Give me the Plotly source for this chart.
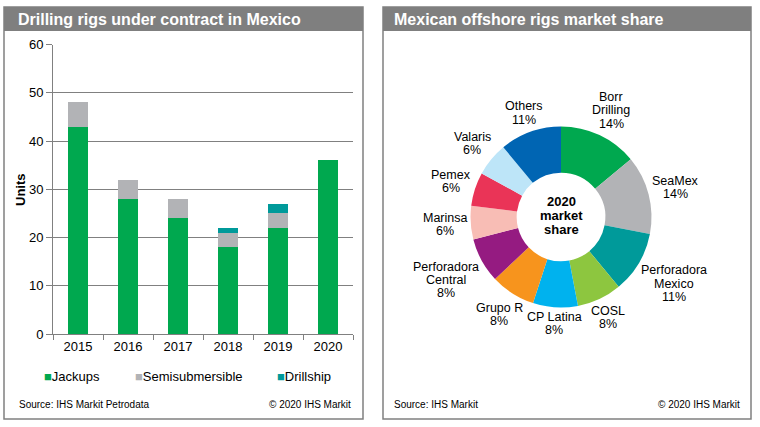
import math
import plotly.graph_objects as go

# ---------------- data ----------------
years = ["2015", "2016", "2017", "2018", "2019", "2020"]
jackups = [43, 28, 24, 18, 22, 36]
semisub = [5, 4, 4, 3, 3, 0]
drillship = [0, 0, 0, 1, 2, 0]
bar_series = ["Jackups", "Semisubmersible", "Drillship"]
bar_colors = ["#00A84F", "#B2B3B6", "#009A9A"]

companies = ["Borr Drilling", "SeaMex", "Perforadora Mexico", "COSL", "CP Latina",
             "Grupo R", "Perforadora Central", "Marinsa", "Pemex", "Valaris", "Others"]
company_lines = [["Borr", "Drilling"], ["SeaMex"], ["Perforadora", "Mexico"], ["COSL"], ["CP Latina"],
                 ["Grupo R"], ["Perforadora", "Central"], ["Marinsa"], ["Pemex"], ["Valaris"], ["Others"]]
shares = [14, 14, 11, 8, 8, 8, 8, 6, 6, 6, 11]
pie_colors = ["#00A84F", "#B2B3B6", "#009A9A", "#8DC63F", "#00B2EE", "#F7941D",
              "#951B81", "#F8BDB5", "#EA3457", "#BDE5F8", "#0065B3"]
center_lines = ["2020", "market", "share"]

W, H = 760, 427
FONT = "Liberation Sans, Arial, sans-serif"
GRAY = "#808080"

# donut geometry (pixels)
CX, CY, R = 561, 217, 90.5

# approximate Arial advance widths (per 1000 em) for label layout
_AW = dict(zip("abcdefghijklmnopqrstuvwxyz",
               [556, 556, 500, 556, 556, 278, 556, 556, 222, 222, 500, 222, 833,
                556, 556, 556, 556, 333, 500, 278, 556, 500, 722, 500, 500, 500]))
_AW.update(dict(zip("ABCDEFGHIJKLMNOPQRSTUVWXYZ",
                    [667, 667, 722, 722, 667, 611, 778, 722, 278, 500, 667, 556, 833,
                     722, 778, 667, 778, 722, 667, 611, 722, 667, 944, 667, 667, 611])))
_AW.update({d: 556 for d in "0123456789"})
_AW.update({"%": 889, " ": 278})


def text_width(s, size):
    return sum(_AW.get(c, 556) for c in s) * size / 1000.0


def px(x):
    return x / W


def py(y):
    return 1 - y / H


fig = go.Figure()

for name, vals, col in zip(bar_series, [jackups, semisub, drillship], bar_colors):
    fig.add_trace(go.Bar(x=years, y=vals, name=name, marker=dict(color=col, line=dict(width=0)),
                         showlegend=False, xaxis="x", yaxis="y"))

fig.add_trace(go.Pie(
    labels=companies, values=shares, textinfo="none",
    marker=dict(colors=pie_colors, line=dict(width=0)),
    hole=0.49, sort=False, direction="clockwise", rotation=0,
    domain=dict(x=[px(CX - R), px(CX + R)], y=[py(CY + R), py(CY - R)]),
    showlegend=False, hoverinfo="label+percent",
))

shapes = []
for x0, x1 in [(4, 363), (383, 751)]:
    shapes.append(dict(type="rect", xref="paper", yref="paper", x0=px(x0), x1=px(x1),
                       y0=py(419), y1=py(7), line=dict(color=GRAY, width=1.5), fillcolor="rgba(0,0,0,0)"))
    shapes.append(dict(type="rect", xref="paper", yref="paper", x0=px(x0), x1=px(x1),
                       y0=py(31), y1=py(7), line=dict(width=0), fillcolor="#7F7F7F", layer="below"))

annotations = []


def add_text(txt, x, y, size, anchor="center", bold=False, color="black", angle=0):
    if bold:
        txt = f"<b>{txt}</b>"
    annotations.append(dict(text=txt, x=px(x), y=py(y), xref="paper", yref="paper",
                            xanchor=anchor, yanchor="middle", showarrow=False, textangle=angle,
                            font=dict(family=FONT, size=size, color=color)))


add_text("Drilling rigs under contract in Mexico", 16, 19, 16, "left", True, "white")
add_text("Mexican offshore rigs market share", 392, 19, 16, "left", True, "white")
add_text("Units", 20, 190, 13, "center", True, angle=-90)

# legend
for name, col, lx in zip(bar_series, bar_colors, [42, 133, 275]):
    add_text(f"<span style='color:{col}'>■</span>{name}", lx, 376, 13, "left")

# sources
add_text("Source: IHS Markit Petrodata", 17, 404, 10, "left")
add_text("© 2020 IHS Markit", 353, 404, 10, "right")
add_text("Source: IHS Markit", 392, 404, 10, "left")
add_text("© 2020 IHS Markit", 742, 404, 10, "right")

# donut centre text
LH_C = 14
for i, ln in enumerate(center_lines):
    add_text(ln, CX, CY - 2 + (i - (len(center_lines) - 1) / 2) * LH_C, 13, "center", True)

# outside labels, placed along each slice's mid-angle
LBL_SIZE, LH, GAP = 12.5, 13.3, 2.5
total = sum(shares)
cum = 0
for lines, v in zip(company_lines, shares):
    theta = 2 * math.pi * (cum + v / 2) / total
    cum += v
    dx, dy = math.sin(theta), -math.cos(theta)
    all_lines = lines + [f"{v}%"]
    n = len(all_lines)
    hw = max(text_width(s, LBL_SIZE) for s in all_lines) / 2
    hh = (n * LH - 3) / 2
    dist = R + GAP + hw * abs(dx) + hh * abs(dy)
    lx, ly = CX + dist * dx, CY + dist * dy
    for i, ln in enumerate(all_lines):
        add_text(ln, lx, ly + (i - (n - 1) / 2) * LH, LBL_SIZE, "center")

fig.update_layout(
    width=W, height=H, margin=dict(l=0, r=0, t=0, b=0, autoexpand=False),
    paper_bgcolor="white", plot_bgcolor="white",
    font=dict(family=FONT, size=13, color="black"),
    barmode="stack", bargap=0.6,
    xaxis=dict(domain=[px(53), px(353)], anchor="y", type="category", automargin=False,
               showline=True, linecolor=GRAY, linewidth=1,
               ticks="outside", tickson="boundaries", ticklen=5, tickcolor=GRAY,
               showgrid=False, tickfont=dict(family=FONT, size=13, color="black")),
    yaxis=dict(domain=[py(334), py(44.5)], anchor="x", range=[0, 60], dtick=10, automargin=False,
               showline=True, linecolor=GRAY, linewidth=1,
               ticks="outside", ticklen=6, tickcolor=GRAY,
               showgrid=True, gridcolor=GRAY, gridwidth=1, zeroline=False,
               tickfont=dict(family=FONT, size=13, color="black")),
    shapes=shapes, annotations=annotations,
)

fig.write_html("out.html", config={"displayModeBar": False},
               post_script="document.body.style.margin='0';document.body.style.overflow='hidden';")
